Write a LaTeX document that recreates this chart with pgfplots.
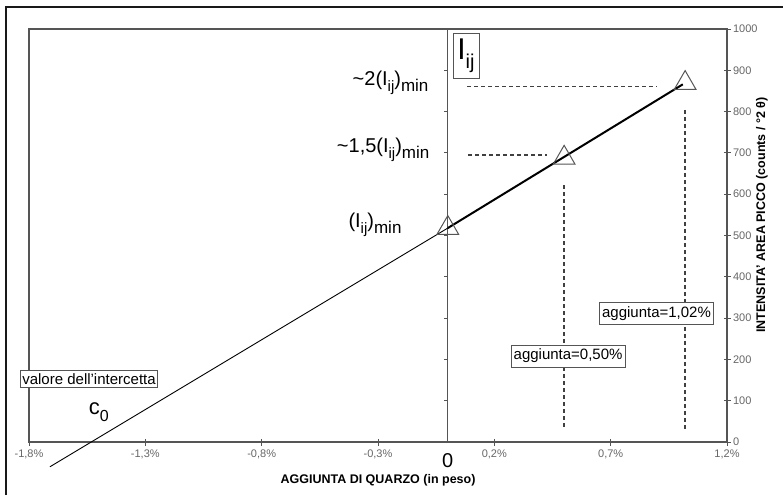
\documentclass[border=0pt]{standalone}
\usepackage{pgfplots}
\pgfplotsset{compat=1.18}
\usepackage{fontspec}
\setmainfont{Liberation Sans}
\newcommand{\sub}[2][15]{\raisebox{-0.3em}{\fontsize{#1}{#1}\selectfont #2}}
\definecolor{axgray}{HTML}{555555}
\definecolor{lblgray}{HTML}{666666}
\begin{document}
\begin{tikzpicture}
\useasboundingbox (0,0) rectangle (783pt,495pt);
\draw[line width=2.5pt, black!90] (6pt,0pt) -- (6pt,488pt) -- (783pt,488pt);
\begin{axis}[
  at={(29pt,53pt)}, anchor=south west,
  scale only axis, width=698pt, height=413pt,
  xmin=-1.8, xmax=1.2, ymin=0, ymax=1000,
  clip=false,
  axis line style={draw=axgray, line width=1.3pt},
  xtick={-1.8,-1.3,-0.8,-0.3,0.2,0.7,1.2},
  xticklabels={{-1,8\%},{-1,3\%},{-0,8\%},{-0,3\%},{0,2\%},{0,7\%},{1,2\%}},
  ytick={0,100,200,300,400,500,600,700,800,900,1000},
  yticklabels={0,100,200,300,400,500,600,700,800,900,1000},
  xtick pos=bottom, ytick pos=right, yticklabel pos=right,
  tick align=center, major tick length=7pt,
  tick style={draw=axgray, line width=0.8pt},
  ticklabel style={font=\fontsize{11}{13}\selectfont, text=lblgray},
  xticklabel style={yshift=-1pt},
  yticklabel style={xshift=-1pt},
]
% vertical line at 0 with its ticks
\draw[axgray, line width=1.2pt] (axis cs:0,0) -- (axis cs:0,1000);
\pgfplotsinvokeforeach{100,200,300,400,500,600,700,800,900}{
  \draw[axgray, line width=0.8pt] (axis cs:0,#1) -- ++(-4pt,0pt);
}
% dashed guides
\draw[dash pattern=on 4pt off 3pt, black!75, line width=1.3pt] (axis cs:0.083,860) -- (axis cs:0.899,860);
\draw[dash pattern=on 4pt off 3pt, black!75, line width=1.3pt] (axis cs:0.087,695) -- (axis cs:0.426,695);
\draw[dash pattern=on 4pt off 3pt, black!75, line width=1.3pt] (axis cs:0.5,622) -- (axis cs:0.5,29);
\draw[dash pattern=on 4pt off 3pt, black!75, line width=1.3pt] (axis cs:1.02,804) -- (axis cs:1.02,29);
% markers
\addplot[only marks, mark=triangle, mark size=12.5pt,
  mark options={fill=white, draw=axgray, line width=1pt}]
  coordinates {(0,518) (0.5,688) (1.02,869)};
% lines
\addplot[black, line width=0.9pt, no marks] coordinates {(-1.71,-60) (0,518)};
\addplot[black, line width=2pt, no marks] coordinates {(0,518) (1.01,866)};
% labels
\node[draw=axgray, fill=white, line width=0.8pt, inner xsep=2.5pt, inner ysep=4pt,
  font=\fontsize{15}{18}\selectfont] at (axis cs:0.897,312) {aggiunta=1,02\%};
\node[draw=axgray, fill=white, line width=0.8pt, inner xsep=2.5pt, inner ysep=4pt,
  font=\fontsize{15}{18}\selectfont] at (axis cs:0.517,208) {aggiunta=0,50\%};
\node[draw=axgray, fill=white, line width=0.8pt, inner xsep=2pt, inner ysep=3pt, anchor=west,
  font=\fontsize{15}{18}\selectfont] at (axis cs:-1.839,153) {valore dell'intercetta};
\node[draw=axgray, fill=white, line width=0.8pt, inner sep=0pt, minimum width=26pt, minimum height=45pt]
  at (axis cs:0.078,936) {\fontsize{30}{30}\selectfont I\sub[20]{ij}};
\node[anchor=east, font=\fontsize{20}{22}\selectfont] at (axis cs:-0.068,869)
  {\textasciitilde 2(I\sub{ij})\sub[17]{min}};
\node[anchor=east, font=\fontsize{20}{22}\selectfont] at (axis cs:-0.064,707)
  {\textasciitilde 1,5(I\sub{ij})\sub[17]{min}};
\node[anchor=east, font=\fontsize{20}{22}\selectfont] at (axis cs:-0.184,525)
  {(I\sub{ij})\sub[17]{min}};
\node[font=\fontsize{22}{24}\selectfont] at (axis cs:-1.50,72) {c\sub[16]{0}};
\node[font=\fontsize{20}{22}\selectfont] at (axis cs:0,-46) {0};
\node[font=\bfseries\fontsize{12.5}{14}\selectfont] at (axis cs:-0.3,-92) {AGGIUNTA DI QUARZO (in peso)};
\end{axis}
\node[rotate=90, font=\bfseries\fontsize{12.5}{14}\selectfont] at (762pt,280pt)
  {INTENSITA' AREA PICCO (counts / °2 θ)};
\end{tikzpicture}
\end{document}
